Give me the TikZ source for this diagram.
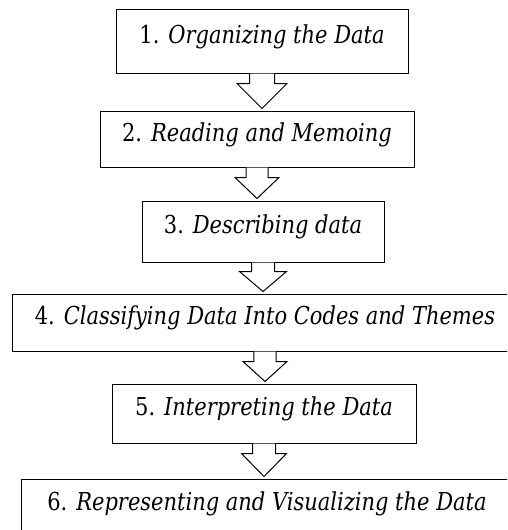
\documentclass[tikz,border=0pt]{standalone}
\usepackage{fontspec}
\setmainfont[FakeStretch=0.85]{DejaVu Serif}
\usetikzlibrary{calc}
\tikzset{
  stage/.style={draw, line width=1pt, fill=white, inner sep=0pt,
    text height=0.72em, text depth=0.26em,
    font=\fontsize{24.7}{28}\selectfont},
  blockarrow/.style={draw, line width=1pt, fill=white, line join=miter},
}
% #1 from node, #2 to node, #3 shaft half width, #4 head half width, #5 head length
\newcommand{\blkarrow}[5]{%
  \draw[blockarrow] let \p1=(#1.south), \p2=(#2.north) in
    (\x1-#3pt,\y1) -- (\x1-#3pt,\y2+#5pt+2pt) -- (\x1-#4pt,\y2+#5pt+2pt)
    -- (\x1,\y2+2pt) -- (\x1+#4pt,\y2+#5pt+2pt) -- (\x1+#3pt,\y2+#5pt+2pt)
    -- (\x1+#3pt,\y1);}
\begin{document}
\begin{tikzpicture}[x=1pt,y=-1pt]
  \useasboundingbox (0,0) rectangle (507,530);
  \clip (0,0) rectangle (507,530);
  \node[stage, minimum width=292pt, minimum height=64pt] (s1) at (262,41)
    {1. \textit{Organizing the Data}};
  \node[stage, minimum width=314pt, minimum height=56pt] (s2) at (257,139)
    {2. \textit{Reading and Memoing}};
  \node[stage, minimum width=242pt, minimum height=61pt] (s3) at (263,231.5)
    {3. \textit{Describing data}};
  \node[stage, minimum width=506pt, minimum height=57pt] (s4) at (265,322.5)
    {4. \textit{Classifying Data Into Codes and Themes}};
  \node[stage, minimum width=304pt, minimum height=59pt] (s5) at (264,413.5)
    {5. \textit{Interpreting the Data}};
  \node[stage, minimum width=492pt, minimum height=58pt] (s6) at (267,508)
    {6. \textit{Representing and Visualizing the Data}};
  \blkarrow{s1}{s2}{12.5}{25}{25}
  \blkarrow{s2}{s3}{11}{22}{21}
  \blkarrow{s3}{s4}{11.5}{23.5}{20}
  \blkarrow{s4}{s5}{11.2}{22}{20}
  \blkarrow{s5}{s6}{11.5}{22.5}{23}
\end{tikzpicture}
\end{document}
